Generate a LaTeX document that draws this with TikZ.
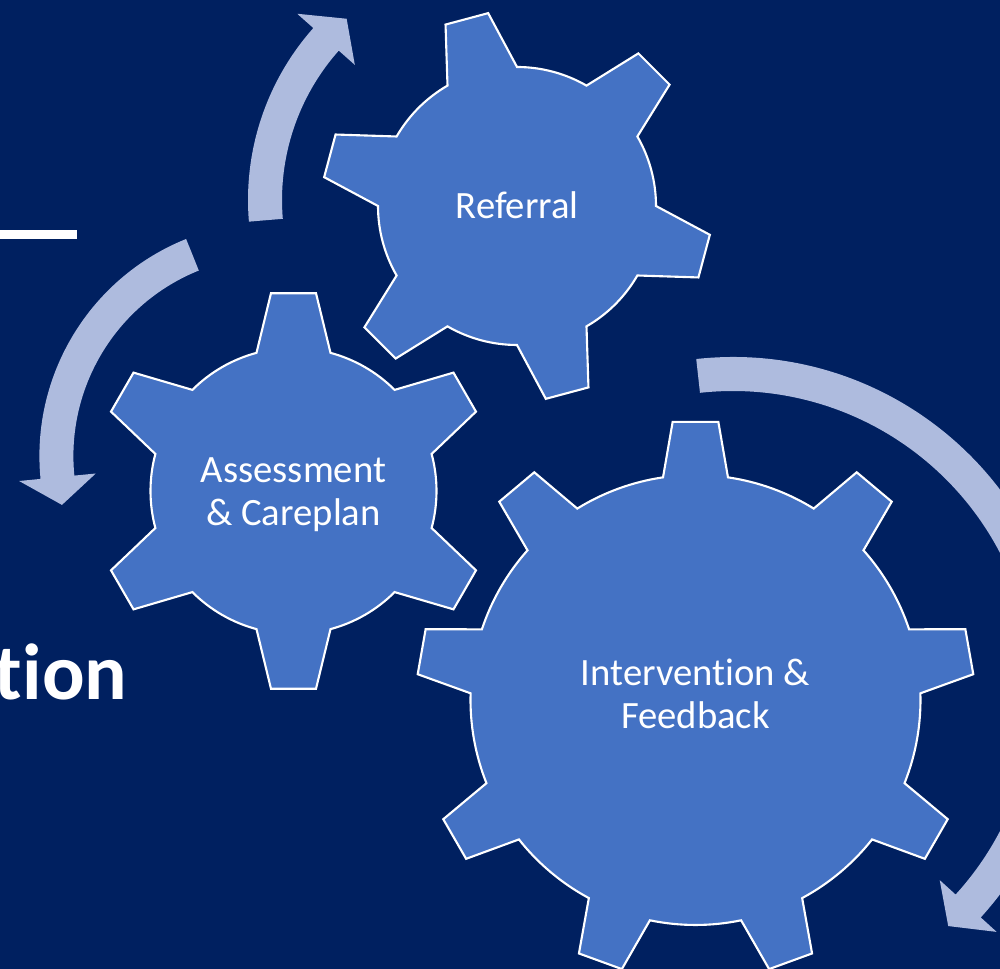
\documentclass[tikz,border=0pt]{standalone}
\usepackage{fontspec}
\setmainfont{Carlito}[Ligatures=NoCommon]
\definecolor{bgnavy}{RGB}{0,32,96}
\definecolor{gearblue}{RGB}{68,114,196}
\definecolor{arrowlav}{RGB}{174,187,222}
% gear outline: #1 teeth, #2 body radius, #3 tip radius, #4 base half-angle, #5 tip half-angle, #6 first tooth angle
\newcommand{\mygear}[6]{(#6-#4:#2) \foreach \k [evaluate=\k as \a using #6+(\k-1)*360/#1] in {1,...,#1} { -- (\a-#5:#3) -- (\a+#5:#3) -- (\a+#4:#2) arc[start angle=\a+#4, end angle=\a+360/#1-#4, radius=#2] } -- cycle}
% curved block arrow: #1 outer r, #2 inner r, #3 head outer r, #4 head inner r, #5 mid r, #6 start angle, #7 head base angle, #8 tip angle
\newcommand{\myarrow}[8]{(#6:#1) arc[start angle=#6, end angle=#7, radius=#1] -- (#7:#3) -- (#8:#5) -- (#7:#4) -- (#7:#2) arc[start angle=#7, end angle=#6, radius=#2] -- cycle}
\tikzset{
  gearshape/.style={fill=gearblue, draw=white, line width=0.6pt, line join=miter},
  cyclearrow/.style={fill=arrowlav, draw=none},
  geartext/.style={text=white, align=center, inner sep=0pt, font=\fontsize{11}{12.3}\selectfont},
}
\begin{document}
\begin{tikzpicture}[x=0.1mm, y=0.1mm]
\useasboundingbox (0,0) rectangle (1000,969);
\clip (0,0) rectangle (1000,969);
\fill[bgnavy] (0,0) rectangle (1000,969);

% title fragment and rule
\fill[white] (0,730) rectangle (77,738.5);
\node[anchor=base east, inner sep=0pt, text=white, font=\bfseries\fontsize{22.6}{27}\selectfont] (title) at (128,269) {tion};

% arrows
\begin{scope}[shift={(507,769)}]
  \path[cyclearrow] \myarrow{259}{225}{280.5}{203.5}{242}{184.8}{138.4}{131.5};
\end{scope}
\begin{scope}[shift={(273.4,512.9)}]
  \path[cyclearrow] \myarrow{234}{200}{255.5}{178.5}{217}{111.9}{185.6}{193};
\end{scope}
\begin{scope}[shift={(733,277)}]
  \path[cyclearrow] \myarrow{335}{301}{356.5}{279.5}{318}{96.3}{-42.3}{-47.4};
\end{scope}

% gears
\begin{scope}[shift={(517,763)}]
  \path[gearshape] \mygear{6}{139}{195}{15}{6.5}{105};
\end{scope}
\begin{scope}[shift={(293.5,478)}]
  \path[gearshape] \mygear{6}{143}{199}{15}{6.5}{90};
\end{scope}
\begin{scope}[shift={(695.5,269)}]
  \path[gearshape] \mygear{9}{225}{279}{8.3}{4.7}{90};
\end{scope}

% labels
\node[geartext, anchor=base] (referral) at (517.3,750.7) {Referral};
\node[geartext] (assessment) at (293.5,474) {Assessment\\\& Careplan};
\node[geartext] (intervention) at (695.5,275) {Intervention \&\\Feedback};
\end{tikzpicture}
\end{document}
